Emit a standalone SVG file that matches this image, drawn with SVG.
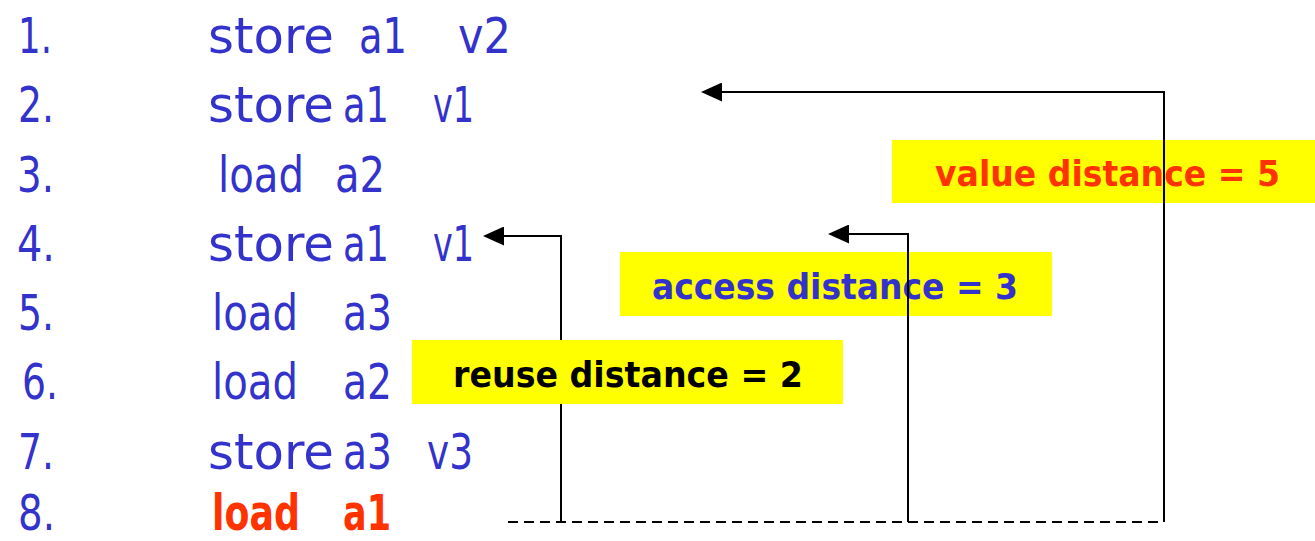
<svg xmlns="http://www.w3.org/2000/svg" width="1315" height="541" viewBox="0 0 1315 541">
<style>
.code{font-family:"DejaVu Sans","Liberation Sans",sans-serif;font-size:49px;fill:#3333CC}
.hot{fill:#FF3300;font-weight:bold}
.lbl{font-family:"DejaVu Sans","Liberation Sans",sans-serif;font-size:36px;font-weight:bold}
.box{fill:#FFFF00}
.ln{fill:none;stroke:#000;stroke-width:2}
.dash{fill:none;stroke:#000;stroke-width:2.2;stroke-dasharray:10 6}
</style>
<defs>
<marker id="ah" markerUnits="userSpaceOnUse" markerWidth="21" markerHeight="19" viewBox="0 0 21 19" refX="0" refY="9.5" orient="auto"><path d="M0,0 L21,9.5 L0,19 z" fill="#000"/></marker>
</defs>
<rect width="1315" height="541" fill="#fff"/>
<g id="code">
<text class="code" y="53"><tspan x="18" textLength="34" lengthAdjust="spacingAndGlyphs">1.</tspan><tspan x="208" textLength="126" lengthAdjust="spacingAndGlyphs">store</tspan><tspan x="359" textLength="48" lengthAdjust="spacingAndGlyphs">a1</tspan><tspan x="458" textLength="53" lengthAdjust="spacingAndGlyphs">v2</tspan></text>
<text class="code" y="122"><tspan x="18" textLength="36" lengthAdjust="spacingAndGlyphs">2.</tspan><tspan x="208" textLength="126" lengthAdjust="spacingAndGlyphs">store</tspan><tspan x="343" textLength="46" lengthAdjust="spacingAndGlyphs">a1</tspan><tspan x="433" textLength="41" lengthAdjust="spacingAndGlyphs">v1</tspan></text>
<text class="code" y="192"><tspan x="17" textLength="37" lengthAdjust="spacingAndGlyphs">3.</tspan><tspan x="218" textLength="86" lengthAdjust="spacingAndGlyphs">load</tspan><tspan x="335" textLength="50" lengthAdjust="spacingAndGlyphs">a2</tspan></text>
<text class="code" y="261"><tspan x="17" textLength="38" lengthAdjust="spacingAndGlyphs">4.</tspan><tspan x="208" textLength="126" lengthAdjust="spacingAndGlyphs">store</tspan><tspan x="343" textLength="46" lengthAdjust="spacingAndGlyphs">a1</tspan><tspan x="433" textLength="41" lengthAdjust="spacingAndGlyphs">v1</tspan></text>
<text class="code" y="330"><tspan x="18" textLength="36" lengthAdjust="spacingAndGlyphs">5.</tspan><tspan x="212" textLength="86" lengthAdjust="spacingAndGlyphs">load</tspan><tspan x="343" textLength="49" lengthAdjust="spacingAndGlyphs">a3</tspan></text>
<text class="code" y="399"><tspan x="22" textLength="36" lengthAdjust="spacingAndGlyphs">6.</tspan><tspan x="212" textLength="86" lengthAdjust="spacingAndGlyphs">load</tspan><tspan x="343" textLength="49" lengthAdjust="spacingAndGlyphs">a2</tspan></text>
<text class="code" y="469"><tspan x="18" textLength="36" lengthAdjust="spacingAndGlyphs">7.</tspan><tspan x="208" textLength="126" lengthAdjust="spacingAndGlyphs">store</tspan><tspan x="343" textLength="49" lengthAdjust="spacingAndGlyphs">a3</tspan><tspan x="427" textLength="46" lengthAdjust="spacingAndGlyphs">v3</tspan></text>
<text class="code" y="530"><tspan x="18" textLength="37" lengthAdjust="spacingAndGlyphs">8.</tspan><tspan class="hot" x="212" textLength="88" lengthAdjust="spacingAndGlyphs">load</tspan><tspan class="hot" x="343" textLength="48" lengthAdjust="spacingAndGlyphs">a1</tspan></text>
</g>
<g id="reuse-label">
<rect class="box" x="412" y="340" width="431" height="64"/>
<text class="lbl" x="453" y="387" fill="#000" textLength="350" lengthAdjust="spacingAndGlyphs">reuse distance = 2</text>
</g>
<g id="access-label">
<rect class="box" x="620" y="252" width="432" height="64"/>
<text class="lbl" x="652" y="299" fill="#3333CC" textLength="366" lengthAdjust="spacingAndGlyphs">access distance = 3</text>
</g>
<g id="value-label">
<rect class="box" x="892" y="140" width="423" height="63"/>
<text class="lbl" x="935" y="186" fill="#FF3300" textLength="345" lengthAdjust="spacingAndGlyphs">value distance = 5</text>
</g>
<g id="connectors">
<line class="dash" x1="508" y1="522" x2="1164" y2="522"/>
<path class="ln" d="M561 340 V236 H504" marker-end="url(#ah)"/>
<path class="ln" d="M561 404 V522"/>
<path class="ln" d="M908 522 V234 H849" marker-end="url(#ah)"/>
<path class="ln" d="M1164 522 V92 H722" marker-end="url(#ah)"/>
</g>
</svg>
